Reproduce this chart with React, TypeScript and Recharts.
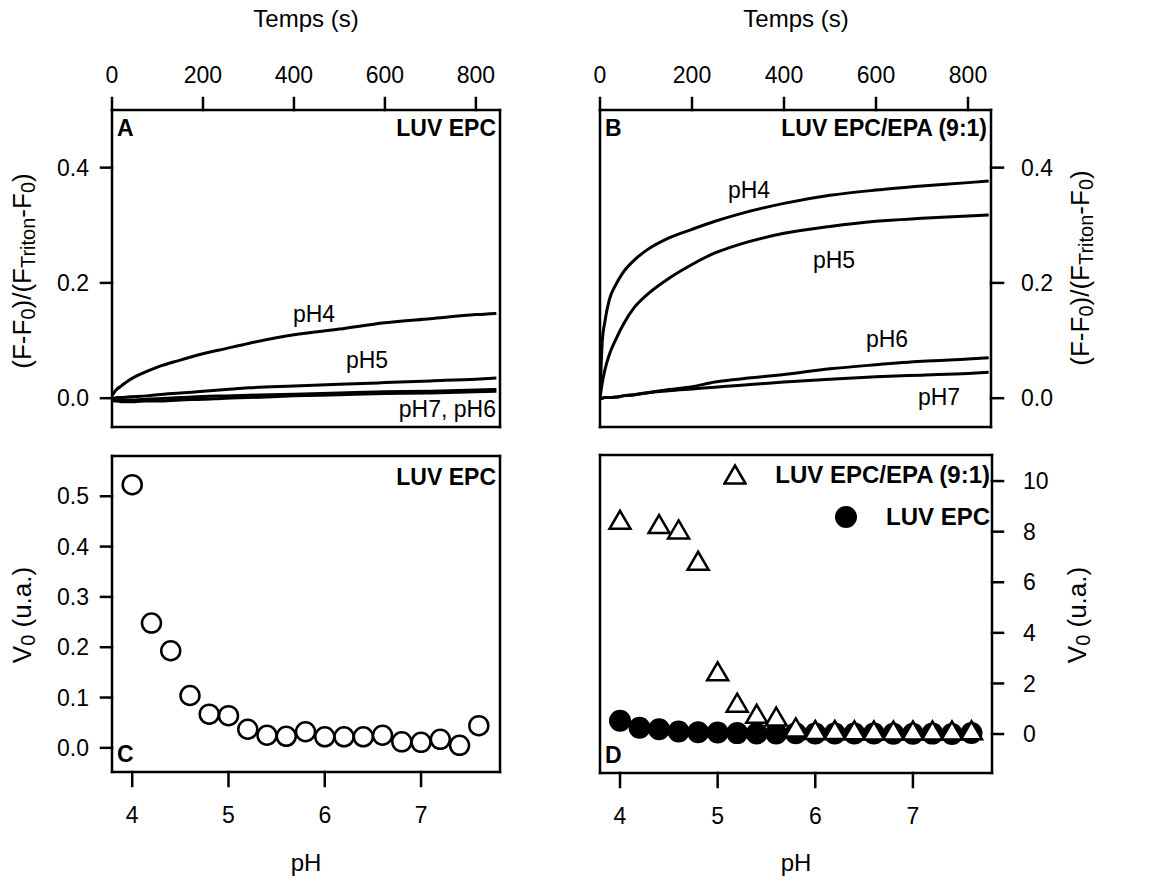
import React from 'react';
import { LineChart, Line, XAxis, YAxis, ScatterChart, Scatter, Legend } from 'recharts';

// ---------- data ----------
const timeS = [0, 5, 10, 20, 35, 50, 75, 100, 150, 200, 250, 300, 400, 500, 600, 700, 800, 845];

// Panel A : LUV EPC
const epc_pH4 = [0.004, 0.010, 0.015, 0.021, 0.030, 0.037, 0.046, 0.054, 0.066, 0.077, 0.086, 0.095, 0.110, 0.120, 0.131, 0.138, 0.145, 0.147];
const epc_pH5 = [0.000, 0.000, 0.001, 0.001, 0.002, 0.003, 0.004, 0.006, 0.009, 0.012, 0.015, 0.018, 0.021, 0.024, 0.027, 0.030, 0.033, 0.035];
const epc_pH6 = [-0.003, -0.003, -0.003, -0.003, -0.003, -0.003, -0.002, -0.001, 0.001, 0.003, 0.004, 0.005, 0.007, 0.009, 0.011, 0.012, 0.014, 0.015];
const epc_pH7 = [-0.004, -0.005, -0.005, -0.006, -0.006, -0.006, -0.005, -0.005, -0.003, -0.002, 0.000, 0.001, 0.004, 0.006, 0.008, 0.009, 0.011, 0.012];

// Panel B : LUV EPC/EPA (9:1)
const epa_pH4 = [0.000, 0.100, 0.130, 0.170, 0.198, 0.218, 0.240, 0.256, 0.278, 0.293, 0.307, 0.319, 0.338, 0.352, 0.361, 0.368, 0.374, 0.377];
const epa_pH5 = [0.000, 0.027, 0.047, 0.075, 0.103, 0.127, 0.158, 0.178, 0.208, 0.232, 0.252, 0.266, 0.286, 0.298, 0.307, 0.312, 0.316, 0.318];
const epa_pH6 = [0.000, 0.000, 0.001, 0.001, 0.002, 0.004, 0.006, 0.009, 0.015, 0.020, 0.028, 0.033, 0.041, 0.051, 0.058, 0.064, 0.068, 0.070];
const epa_pH7 = [0.000, 0.000, 0.001, 0.001, 0.002, 0.004, 0.006, 0.009, 0.013, 0.016, 0.019, 0.022, 0.028, 0.033, 0.037, 0.040, 0.043, 0.045];

// Panels C / D
const phEPC = [4.0, 4.2, 4.4, 4.6, 4.8, 5.0, 5.2, 5.4, 5.6, 5.8, 6.0, 6.2, 6.4, 6.6, 6.8, 7.0, 7.2, 7.4, 7.6];
const v0EPC = [0.523, 0.248, 0.193, 0.104, 0.067, 0.064, 0.037, 0.025, 0.023, 0.032, 0.022, 0.022, 0.022, 0.025, 0.012, 0.011, 0.017, 0.005, 0.044];
const phEPA = [4.0, 4.4, 4.6, 4.8, 5.0, 5.2, 5.4, 5.6, 5.8, 6.0, 6.2, 6.4, 6.6, 6.8, 7.0, 7.2, 7.4, 7.6];
const v0EPA = [8.45, 8.28, 8.07, 6.83, 2.46, 1.22, 0.78, 0.67, 0.24, 0.14, 0.14, 0.13, 0.12, 0.12, 0.12, 0.12, 0.12, 0.13];

const timeTicks = [0, 200, 400, 600, 800];
const fracTicks = [0, 0.2, 0.4];
const phTicks = [4, 5, 6, 7];
const v0EpcTicks = [0, 0.1, 0.2, 0.3, 0.4, 0.5];
const v0EpaTicks = [0, 2, 4, 6, 8, 10];

const rowsA = timeS.map((t, i) => ({ t, pH4: epc_pH4[i], pH5: epc_pH5[i], pH6: epc_pH6[i], pH7: epc_pH7[i] }));
const rowsB = timeS.map((t, i) => ({ t, pH4: epa_pH4[i], pH5: epa_pH5[i], pH6: epa_pH6[i], pH7: epa_pH7[i] }));
const ptsEPC = phEPC.map((ph, i) => ({ ph, v: v0EPC[i] }));
const ptsEPA = phEPA.map((ph, i) => ({ ph, v: v0EPA[i] }));

// ---------- styles ----------
const FONT = '"Liberation Sans", Arial, Helvetica, sans-serif';
const SW = 2.5;
const lineStyle = { stroke: '#000', strokeWidth: SW, strokeLinecap: 'square' as const };
const tickStyle = { fill: '#000', fontSize: 23, fontFamily: FONT };

const TitleH = ({ px, py, text }: any) => (
  <text x={px} y={py} textAnchor="middle" fontFamily={FONT} fontSize={24} fill="#000">{text}</text>
);

const FracLabel = ({ px, py }: any) => (
  <text x={px} y={py} transform={`rotate(-90, ${px}, ${py})`} textAnchor="middle" dominantBaseline="central"
    fontFamily={FONT} fontSize={26} fill="#000">
    <tspan>(F-F</tspan><tspan fontSize={20} dy={6}>0</tspan>
    <tspan dy={-6}>)/(F</tspan><tspan fontSize={20} dy={6}>Triton</tspan>
    <tspan dy={-6}>-F</tspan><tspan fontSize={20} dy={6}>0</tspan>
    <tspan dy={-6}>)</tspan>
  </text>
);

const V0Label = ({ px, py }: any) => (
  <text x={px} y={py} transform={`rotate(-90, ${px}, ${py})`} textAnchor="middle" dominantBaseline="central"
    fontFamily={FONT} fontSize={26} fill="#000">
    <tspan>V</tspan><tspan fontSize={20} dy={6}>0</tspan>
    <tspan dy={-6}> (u.a.)</tspan>
  </text>
);

const OpenCircle = (p: any) => (
  <circle cx={p.cx} cy={p.cy} r={9.5} fill="none" stroke="#000" strokeWidth={SW} />
);
const FilledCircle = (p: any) => (
  <circle cx={p.cx} cy={p.cy} r={11} fill="#000" />
);
const OpenTriangle = (p: any) => (
  <polygon points={`${p.cx},${p.cy - 9.5} ${p.cx + 10.5},${p.cy + 8.5} ${p.cx - 10.5},${p.cy + 8.5}`}
    fill="#fff" stroke="#000" strokeWidth={SW} strokeLinejoin="miter" />
);

const LegendD = () => (
  <div style={{ display: 'flex', flexDirection: 'column', alignItems: 'flex-end', fontFamily: FONT, fontWeight: 'bold', fontSize: 24, color: '#000', whiteSpace: 'nowrap' }}>
    <div style={{ display: 'flex', alignItems: 'center', height: 42 }}>
      <svg width={24} height={24}><polygon points="12,2.5 22.5,20.5 1.5,20.5" fill="#fff" stroke="#000" strokeWidth={SW} /></svg>
      <span style={{ marginLeft: 28 }}>LUV EPC/EPA (9:1)</span>
    </div>
    <div style={{ display: 'flex', alignItems: 'center', height: 42 }}>
      <svg width={24} height={24}><circle cx={12} cy={12} r={11} fill="#000" /></svg>
      <span style={{ marginLeft: 28 }}>LUV EPC</span>
    </div>
  </div>
);

const ann = { fontFamily: FONT, fontSize: 23, fill: '#000' };
const annB = { ...ann, fontWeight: 'bold' as const };

export default function App() {
  return (
    <div style={{ position: 'absolute', left: 0, top: 0, width: 1173, height: 883, background: '#fff' }}>
      {/* Panel A */}
      <div style={{ position: 'absolute', left: 0, top: 0 }}>
        <LineChart width={580} height={440} data={rowsA} margin={{ top: 0, right: 79, bottom: 12, left: 0 }}>
          <XAxis xAxisId="t" dataKey="t" type="number" orientation="top" domain={[0, 853]} allowDataOverflow
            ticks={timeTicks} height={110} tickSize={12} tickMargin={15} axisLine={lineStyle} tickLine={lineStyle}
            tick={tickStyle} label={<TitleH px={306} py={27} text="Temps (s)" />} />
          <XAxis xAxisId="b" type="number" orientation="bottom" domain={[0, 853]} allowDataOverflow height={1}
            tick={false} tickLine={false} axisLine={lineStyle} />
          <YAxis yAxisId="l" type="number" domain={[-0.05, 0.5]} allowDataOverflow ticks={fracTicks} width={112}
            tickSize={11} tickMargin={12} axisLine={lineStyle} tickLine={lineStyle} tick={tickStyle}
            tickFormatter={(v: number) => v.toFixed(1)} label={<FracLabel px={22} py={271} />} />
          <YAxis yAxisId="r" orientation="right" type="number" domain={[-0.05, 0.5]} allowDataOverflow width={1}
            tick={false} tickLine={false} axisLine={lineStyle} />
          {['pH7', 'pH6', 'pH5', 'pH4'].map(k => (
            <Line key={k} xAxisId="t" yAxisId="l" dataKey={k} type="monotone" stroke="#000" strokeWidth={3}
              dot={false} isAnimationActive={false} />
          ))}
        </LineChart>
      </div>

      {/* Panel B */}
      <div style={{ position: 'absolute', left: 580, top: 0 }}>
        <LineChart width={593} height={440} data={rowsB} margin={{ top: 0, right: 0, bottom: 12, left: 19 }}>
          <XAxis xAxisId="t" dataKey="t" type="number" orientation="top" domain={[0, 850]} allowDataOverflow
            ticks={timeTicks} height={110} tickSize={12} tickMargin={15} axisLine={lineStyle} tickLine={lineStyle}
            tick={tickStyle} label={<TitleH px={216} py={27} text="Temps (s)" />} />
          <XAxis xAxisId="b" type="number" orientation="bottom" domain={[0, 850]} allowDataOverflow height={1}
            tick={false} tickLine={false} axisLine={lineStyle} />
          <YAxis yAxisId="l" type="number" domain={[-0.05, 0.5]} allowDataOverflow width={1}
            tick={false} tickLine={false} axisLine={lineStyle} />
          <YAxis yAxisId="r" orientation="right" type="number" domain={[-0.05, 0.5]} allowDataOverflow ticks={fracTicks}
            width={182} tickSize={12} tickMargin={18} axisLine={lineStyle} tickLine={lineStyle} tick={tickStyle}
            tickFormatter={(v: number) => v.toFixed(1)} label={<FracLabel px={500} py={268} />} />
          {['pH7', 'pH6', 'pH5', 'pH4'].map(k => (
            <Line key={k} xAxisId="t" yAxisId="r" dataKey={k} type="monotone" stroke="#000" strokeWidth={3}
              dot={false} isAnimationActive={false} />
          ))}
        </LineChart>
      </div>

      {/* Panel C */}
      <div style={{ position: 'absolute', left: 0, top: 430 }}>
        <ScatterChart width={580} height={453} margin={{ top: 25, right: 79, bottom: 0, left: 0 }}>
          <XAxis xAxisId="p" dataKey="ph" type="number" orientation="bottom" domain={[3.79, 7.82]} allowDataOverflow
            ticks={phTicks} height={111} tickSize={14} tickMargin={21} axisLine={lineStyle} tickLine={lineStyle}
            tick={tickStyle} label={<TitleH px={306} py={441} text="pH" />} />
          <XAxis xAxisId="top" type="number" orientation="top" domain={[3.79, 7.82]} allowDataOverflow height={1}
            tick={false} tickLine={false} axisLine={lineStyle} />
          <YAxis yAxisId="v" dataKey="v" type="number" domain={[-0.048, 0.58]} allowDataOverflow ticks={v0EpcTicks}
            width={112} tickSize={11} tickMargin={12} axisLine={lineStyle} tickLine={lineStyle} tick={tickStyle}
            tickFormatter={(v: number) => v.toFixed(1)} label={<V0Label px={22} py={185} />} />
          <YAxis yAxisId="r" orientation="right" type="number" domain={[-0.048, 0.58]} allowDataOverflow width={1}
            tick={false} tickLine={false} axisLine={lineStyle} />
          <Scatter xAxisId="p" yAxisId="v" data={ptsEPC} dataKey="v" shape={OpenCircle} isAnimationActive={false} />
        </ScatterChart>
      </div>

      {/* Panel D */}
      <div style={{ position: 'absolute', left: 580, top: 430 }}>
        <ScatterChart width={593} height={453} margin={{ top: 24, right: 0, bottom: 0, left: 19 }}>
          <XAxis xAxisId="p" dataKey="ph" type="number" orientation="bottom" domain={[3.795, 7.81]} allowDataOverflow
            ticks={phTicks} height={110} tickSize={14} tickMargin={21} axisLine={lineStyle} tickLine={lineStyle}
            tick={tickStyle} label={<TitleH px={216} py={441} text="pH" />} />
          <XAxis xAxisId="top" type="number" orientation="top" domain={[3.795, 7.81]} allowDataOverflow height={1}
            tick={false} tickLine={false} axisLine={lineStyle} />
          <YAxis yAxisId="l" type="number" domain={[-1.54, 11.03]} allowDataOverflow width={1}
            tick={false} tickLine={false} axisLine={lineStyle} />
          <YAxis yAxisId="v" orientation="right" dataKey="v" type="number" domain={[-1.54, 11.03]} allowDataOverflow
            ticks={v0EpaTicks} width={181} tickSize={11} tickMargin={20} axisLine={lineStyle} tickLine={lineStyle}
            tick={tickStyle} label={<V0Label px={497} py={185} />} />
          <Legend layout="horizontal" verticalAlign="middle" align="center" content={LegendD}
            wrapperStyle={{ top: 24, right: 183, left: 'auto', bottom: 'auto', width: 'auto', height: 'auto' }} />
          <Scatter name="LUV EPC" xAxisId="p" yAxisId="v" data={ptsEPC} dataKey="v" shape={FilledCircle} isAnimationActive={false} />
          <Scatter name="LUV EPC/EPA (9:1)" xAxisId="p" yAxisId="v" data={ptsEPA} dataKey="v" shape={OpenTriangle} isAnimationActive={false} />
        </ScatterChart>
      </div>

      {/* annotations */}
      <svg width={1173} height={883} style={{ position: 'absolute', left: 0, top: 0, pointerEvents: 'none' }}>
        <text x={117} y={136} {...annB}>A</text>
        <text x={496} y={136} textAnchor="end" {...annB}>LUV EPC</text>
        <text x={314} y={322} textAnchor="middle" {...ann}>pH4</text>
        <text x={367} y={368} textAnchor="middle" {...ann}>pH5</text>
        <text x={496} y={417} textAnchor="end" {...ann}>pH7, pH6</text>

        <text x={605} y={136} {...annB}>B</text>
        <text x={987} y={136} textAnchor="end" {...annB}>LUV EPC/EPA (9:1)</text>
        <text x={749} y={198} textAnchor="middle" {...ann}>pH4</text>
        <text x={834} y={268} textAnchor="middle" {...ann}>pH5</text>
        <text x={887} y={347} textAnchor="middle" {...ann}>pH6</text>
        <text x={939} y={405} textAnchor="middle" {...ann}>pH7</text>

        <text x={496} y={485} textAnchor="end" {...annB}>LUV EPC</text>
        <text x={117} y={762} {...annB}>C</text>
        <text x={605} y={763} {...annB}>D</text>
      </svg>
    </div>
  );
}
